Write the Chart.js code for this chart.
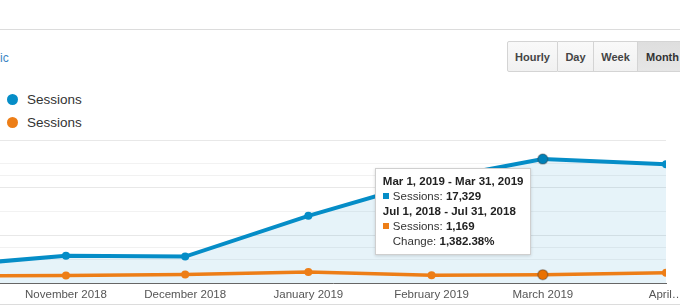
<!DOCTYPE html>
<html>
<head>
<meta charset="utf-8">
<script src="https://cdn.jsdelivr.net/npm/chart.js@4.4.1/dist/chart.umd.min.js"></script>
<style>
  html, body { margin: 0; padding: 0; }
  body { width: 680px; height: 306px; overflow: hidden; position: relative; background: #fff;
         font-family: "Liberation Sans", Arial, sans-serif; color: #333; }
  .rule { position: absolute; left: 0; width: 680px; height: 1px; background: #dcdcdc; }
  .seg { position: absolute; left: 0; top: 51px; font-size: 12px; color: #3a84c4; }
  .legend { position: absolute; left: 7px; top: 88px; font-size: 13.5px; color: #333; }
  .legend div { height: 23px; line-height: 18px; display: flex; align-items: center; }
  .legend span.dot { width: 11px; height: 11px; border-radius: 50%; margin-right: 9px; display: inline-block; }
  .btns { position: absolute; left: 507px; top: 41px; height: 31px; display: flex; }
  .btns div { box-sizing: border-box; height: 31px; line-height: 31px; border: 1px solid #d4d4d4; border-left: none;
              background: linear-gradient(#f9f9f9, #f1f1f1); font-size: 11px; font-weight: bold; color: #444;
              text-align: center; }
  .btns div:first-child { border-left: 1px solid #d4d4d4; border-radius: 2px 0 0 2px; }
  .btns div.on { background: linear-gradient(#dedede, #e6e6e6); color: #333; text-align: left; padding-left: 8px; }
  #wrap { position: absolute; left: 0; top: 130px; width: 720px; height: 176px; }
  #tip { position: absolute; display: none; background: #fff; border: 1px solid #cfcfcf;
         box-shadow: 0 1px 3px rgba(0,0,0,0.15); padding: 5px 7px; font-size: 11.5px; line-height: 15px;
         color: #333; white-space: nowrap; }
  #tip b { color: #222; }
  #tip .sq { display: inline-block; width: 6px; height: 6px; margin-right: 4px; vertical-align: 1px; }
  #tip .ind { padding-left: 10px; }
</style>
</head>
<body>
<div class="rule" style="top:29px"></div>
<div class="seg">ic</div>
<div class="btns">
  <div style="width:51px">Hourly</div>
  <div style="width:36px">Day</div>
  <div style="width:44px">Week</div>
  <div class="on" style="width:60px">Month</div>
</div>
<div class="legend" id="legend"></div>
<div id="wrap">
  <canvas id="c" width="720" height="176" style="width:720px;height:176px"></canvas>
  <div id="tip"></div>
</div>
<div class="rule" style="top:304px"></div>
<script>
// month starts (current period) and the comparison period
const months = ['2018-10-01', '2018-11-01', '2018-12-01', '2019-01-01', '2019-02-01', '2019-03-01', '2019-04-01'];
const monthLabels = ['October 2018', 'November 2018', 'December 2018', 'January 2019', 'February 2019', 'March 2019', 'April…'];
const currentRanges = ['Oct 1, 2018 - Oct 31, 2018', 'Nov 1, 2018 - Nov 30, 2018', 'Dec 1, 2018 - Dec 31, 2018',
  'Jan 1, 2019 - Jan 31, 2019', 'Feb 1, 2019 - Feb 28, 2019', 'Mar 1, 2019 - Mar 31, 2019', 'Apr 1, 2019 - Apr 30, 2019'];
const previousRanges = ['Feb 1, 2018 - Feb 28, 2018', 'Mar 1, 2018 - Mar 31, 2018', 'Apr 1, 2018 - Apr 30, 2018',
  'May 1, 2018 - May 31, 2018', 'Jun 1, 2018 - Jun 30, 2018', 'Jul 1, 2018 - Jul 31, 2018', 'Aug 1, 2018 - Aug 31, 2018'];
const sessionsCurrent = [2350, 3800, 3700, 9400, 14400, 17329, 16600];
const sessionsPrevious = [1000, 1050, 1200, 1550, 1080, 1169, 1450];
const seriesLabels = ['Sessions', 'Sessions'];
const seriesColors = ['#058dc7', '#ed7e17'];
const hoverIndex = 5;

const DAY = 86400000;
const base = Date.parse(months[0]);
const dayOf = m => (Date.parse(m) - base) / DAY;
const xMinDay = 14.4; // left edge of the visible window (chart is cropped)
const tickDays = months.map(dayOf);

document.getElementById('legend').innerHTML = seriesLabels.map((l, i) =>
  '<div><span class="dot" style="background:' + seriesColors[i] + '"></span>' + l + '</div>').join('');

const fmt = n => n.toLocaleString('en-US');

function externalTip({ chart, tooltip }) {
  const el = document.getElementById('tip');
  if (!tooltip.dataPoints || !tooltip.dataPoints.length) { el.style.display = 'none'; return; }
  const i = tooltip.dataPoints[0].dataIndex;
  const cur = sessionsCurrent[i], prev = sessionsPrevious[i];
  const change = ((cur - prev) / prev * 100).toLocaleString('en-US', { minimumFractionDigits: 2, maximumFractionDigits: 2 });
  el.innerHTML =
    '<b>' + currentRanges[i] + '</b><br>' +
    '<span class="sq" style="background:' + seriesColors[0] + '"></span>' + seriesLabels[0] + ': <b>' + fmt(cur) + '</b><br>' +
    '<b>' + previousRanges[i] + '</b><br>' +
    '<span class="sq" style="background:' + seriesColors[1] + '"></span>' + seriesLabels[1] + ': <b>' + fmt(prev) + '</b><br>' +
    '<div class="ind">Change: <b>' + change + '%</b></div>';
  el.style.display = 'block';
  const p = tooltip.dataPoints[0].element;
  el.style.left = (p.x - el.offsetWidth - 11) + 'px';
  el.style.top = (p.y + 9) + 'px';
}

const chart = new Chart(document.getElementById('c'), {
  type: 'line',
  data: {
    datasets: [{
      label: seriesLabels[0],
      data: tickDays.map((d, i) => ({ x: d, y: sessionsCurrent[i] })),
      borderColor: seriesColors[0],
      backgroundColor: seriesColors[0],
      borderWidth: 4,
      pointRadius: 4,
      pointBorderWidth: 0,
      pointHoverRadius: 5,
      pointHoverBorderWidth: 1.5,
      pointHoverBorderColor: 'rgba(60,60,60,0.35)',
      fill: { target: 'origin', above: 'rgba(5,141,199,0.1)' },
      tension: 0
    }, {
      label: seriesLabels[1],
      data: tickDays.map((d, i) => ({ x: d, y: sessionsPrevious[i] })),
      borderColor: seriesColors[1],
      backgroundColor: seriesColors[1],
      borderWidth: 3.5,
      pointRadius: 4,
      pointBorderWidth: 0,
      pointHoverRadius: 5,
      pointHoverBorderWidth: 1.5,
      pointHoverBorderColor: 'rgba(60,60,60,0.35)',
      fill: false,
      tension: 0
    }]
  },
  options: {
    responsive: false,
    animation: false,
    events: [],
    layout: { autoPadding: false, padding: { top: 10, bottom: 4.2, left: 0, right: 54 } },
    scales: {
      x: {
        type: 'linear',
        min: xMinDay,
        max: tickDays[tickDays.length - 1],
        afterBuildTicks: axis => { axis.ticks = tickDays.filter(d => d >= xMinDay).map(v => ({ value: v })); },
        afterFit: s => { s.height = 18.8; s.paddingLeft = 0; s.paddingRight = 0; },
        grid: { display: false, drawTicks: false },
        border: { display: true, color: '#666', width: 1 },
        ticks: {
          padding: 5,
          color: '#555',
          font: { family: '"Liberation Sans", Arial, sans-serif', size: 11.5 },
          maxRotation: 0,
          autoSkip: false,
          callback: v => monthLabels[tickDays.indexOf(v)]
        }
      },
      y: {
        min: 0,
        max: 20000,
        afterFit: s => { s.width = 0; },
        ticks: { stepSize: 5000, display: false },
        grid: { color: '#f1f1f1', drawTicks: false },
        border: { display: false }
      },
      y2: {
        position: 'left',
        min: 0,
        max: 6,
        afterFit: s => { s.width = 0; },
        ticks: { stepSize: 1, display: false },
        grid: { color: ctx => (ctx.tick.value % 2 === 0 ? '#e8e8e8' : '#f2f2f2'), drawTicks: false },
        border: { display: false }
      }
    },
    plugins: {
      legend: { display: false },
      filler: { drawTime: 'beforeDatasetsDraw' },
      tooltip: { enabled: false, mode: 'index', intersect: false, external: externalTip }
    }
  }
});

const active = [{ datasetIndex: 0, index: hoverIndex }, { datasetIndex: 1, index: hoverIndex }];
chart.setActiveElements(active);
const pt = chart.getDatasetMeta(0).data[hoverIndex];
chart.tooltip.setActiveElements(active, { x: pt.x, y: pt.y });
chart.update('none');
</script>
</body>
</html>
